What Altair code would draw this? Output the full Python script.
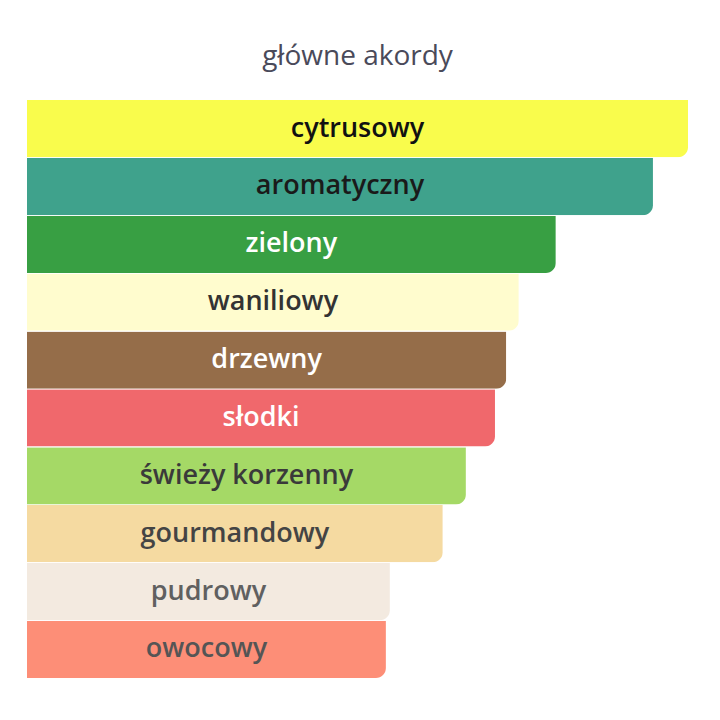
import altair as alt
import pandas as pd

categories = ["cytrusowy", "aromatyczny", "zielony", "waniliowy", "drzewny",
              "słodki", "świeży korzenny", "gourmandowy", "pudrowy", "owocowy"]
values = [100, 94.7, 80.0, 74.4, 72.5, 70.8, 66.4, 62.9, 54.9, 54.3]

bar_colors = ["#F9FC4C", "#3FA28C", "#389F43", "#FFFCCE", "#956D49",
              "#F0686C", "#A5D966", "#F5DAA1", "#F3EAE0", "#FD8E77"]
text_colors = ["#111111", "#1A1A1A", "#FFFFFF", "#333333", "#FFFFFF",
               "#FFFFFF", "#3A3A3A", "#444444", "#606060", "#555555"]

df = pd.DataFrame({"akord": categories, "v": values})

base = alt.Chart(df).encode(
    y=alt.Y("akord:N", sort=categories, axis=None,
            scale=alt.Scale(paddingInner=0.01, paddingOuter=0)),
)

bars = base.mark_bar(cornerRadiusBottomRight=10).encode(
    x=alt.X("v:Q", axis=None, scale=alt.Scale(domain=[0, 100], nice=False)),
    color=alt.Color("akord:N", sort=categories, legend=None,
                    scale=alt.Scale(domain=categories, range=bar_colors)),
)

labels = base.transform_calculate(mid="datum.v / 2").mark_text(
    font="Open Sans", fontSize=27, fontWeight=600, baseline="middle", align="center"
).encode(
    x=alt.X("mid:Q", scale=alt.Scale(domain=[0, 100], nice=False)),
    text="akord:N",
    color=alt.Color("akord:N", sort=categories, legend=None,
                    scale=alt.Scale(domain=categories, range=text_colors)),
)

chart = alt.layer(bars, labels).resolve_scale(color="independent").properties(
    width=661, height=578,
    title=alt.TitleParams("główne akordy", font="Open Sans", fontSize=28,
                          fontWeight=500, color="#4A4A5A", anchor="middle",
                          offset=29),
    padding={"left": 19, "top": 35, "right": 10, "bottom": 10},
).configure_view(stroke=None)

chart.save("out.html", embed_options={"renderer": "svg", "actions": False})
